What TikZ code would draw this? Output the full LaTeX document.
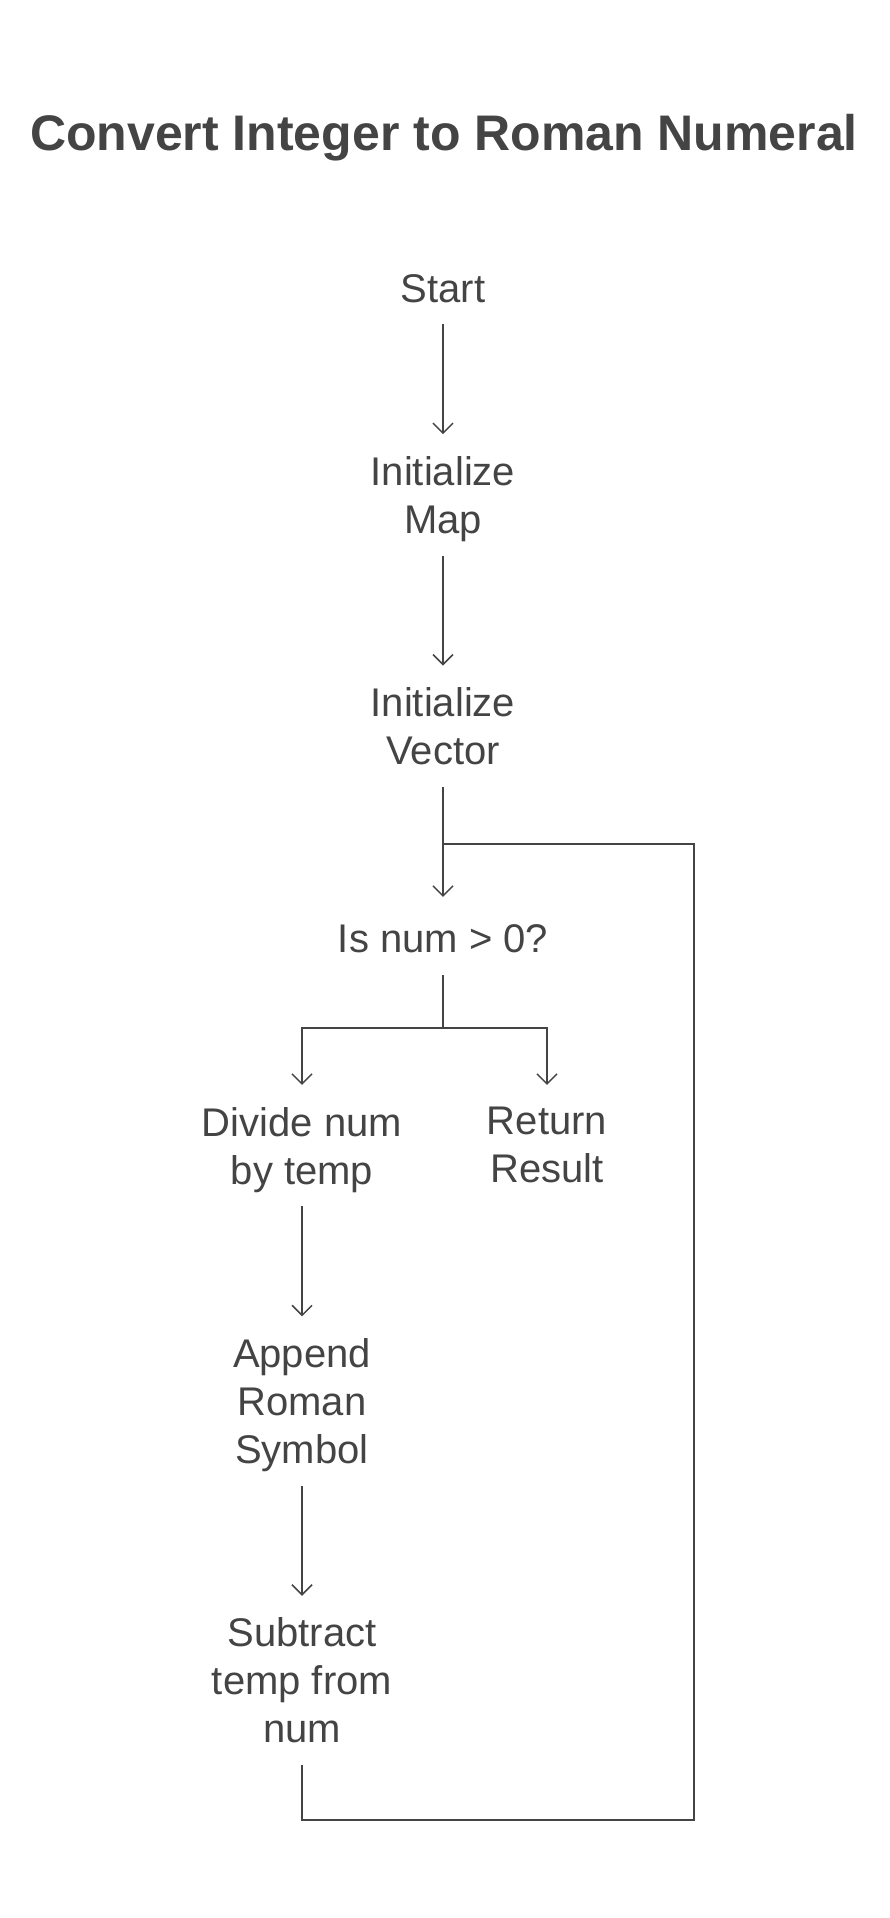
\documentclass[tikz,border=0pt]{standalone}
\usepackage{fontspec}
\setmainfont{Liberation Sans}
\usetikzlibrary{arrows.meta,positioning}
\definecolor{ink}{HTML}{444444}

\begin{document}
\begin{tikzpicture}[x=1pt,y=-1pt,font=\fontsize{40}{48}\selectfont,
 >={Straight Barb[length=10pt,width=20pt]},
 node distance=139.6pt,
 n/.style={align=center,inner sep=0pt,text=ink,
  execute at begin node=\strut,execute at end node=\strut},
 wire/.style={draw=ink,line width=1.5pt,shorten <=7.6pt},
 line/.style={wire,->,shorten >=22pt}]
\useasboundingbox (0,0) rectangle (890,1918);
\node[text=ink,font=\fontsize{50}{60}\selectfont\bfseries,anchor=base] (title) at (444,151)
 {Convert Integer to Roman Numeral};
\node[n,anchor=base] (start) at (443,302) {Start};
\node[n,below=of start] (map) {Initialize\\Map};
\node[n,below=of map] (vector) {Initialize\\Vector};
\node[n,below=of vector] (cond) {Is num > 0?};
\node[n,below=of cond,xshift=-141pt] (divide) {Divide num\\by temp};
\node[n,below=of cond,xshift=104pt] (ret) {Return\\Result};
\node[n,below=of divide] (append) {Append\\Roman\\Symbol};
\node[n,below=of append] (subtract) {Subtract\\temp from\\num};
\coordinate (join) at (443,844);
\coordinate (fork) at (443,1028);
\coordinate (corner) at (694,1820);
\draw[line] (start)--(map);\draw[line] (map)--(vector);\draw[line] (vector)--(cond);
\draw[wire] (cond)--(fork);
\draw[line,shorten <=0pt] (fork)-|(divide);\draw[line,shorten <=0pt] (fork)-|(ret);
\draw[line] (divide)--(append);\draw[line] (append)--(subtract);
\draw[wire] (subtract)|-(corner)|-(join);
\end{tikzpicture}
\end{document}
